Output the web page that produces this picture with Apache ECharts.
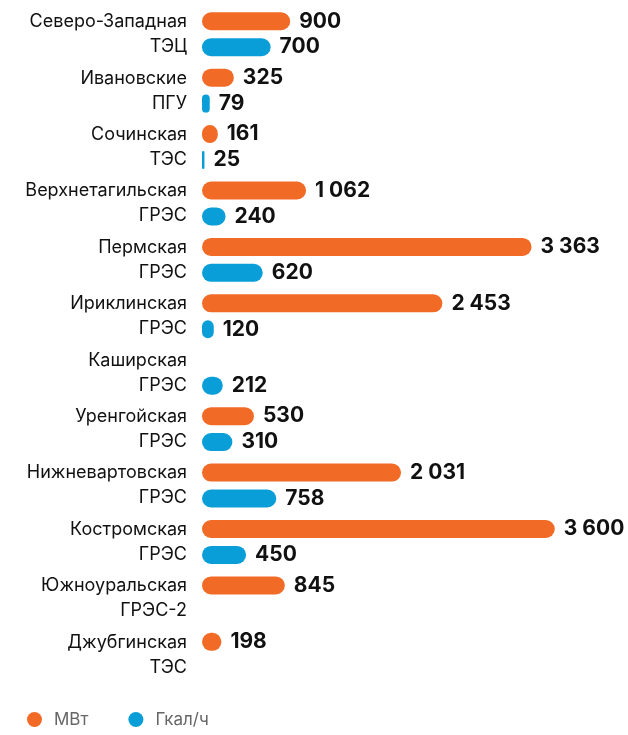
<!DOCTYPE html>
<html lang="ru">
<head>
    <meta charset="UTF-8">
    <title>Мощность</title>
    <script src="https://cdn.jsdelivr.net/npm/echarts@6/dist/echarts.min.js"></script>
    <style>
        html, body { margin: 0; padding: 0; background: #fff; }
        #main { width: 628px; height: 735px; }
    </style>
</head>
<body>
    <div id="main"></div>
    <script type="text/javascript">
        var stations = [
            'Северо-Западная\nТЭЦ', 'Ивановские\nПГУ', 'Сочинская\nТЭС', 'Верхнетагильская\nГРЭС',
            'Пермская\nГРЭС', 'Ириклинская\nГРЭС', 'Каширская\nГРЭС', 'Уренгойская\nГРЭС',
            'Нижневартовская\nГРЭС', 'Костромская\nГРЭС', 'Южноуральская\nГРЭС-2', 'Джубгинская\nТЭС'
        ];
        var mw = [900, 325, 161, 1062, 3363, 2453, null, 530, 2031, 3600, 845, 198];
        var gcal = [700, 79, 25, 240, 620, 120, 212, 310, 758, 450, null, null];
        var seriesNames = ['МВт', 'Гкал/ч'];

        // число с пробелом между разрядами
        function fmt(p) {
            return String(p.value).replace(/\B(?=(\d{3})+(?!\d))/g, ' ');
        }

        var myChart = echarts.init(document.getElementById('main'));
        var labelStyle = {
            show: true,
            position: 'right',
            distance: 9,
            formatter: fmt,
            color: '#111',
            fontFamily: 'Inter',
            fontWeight: 'bold',
            fontSize: 21
        };

        myChart.setOption({
            animation: false,
            grid: { left: 202, right: 34, top: 6, bottom: 52 },
            legend: {
                data: seriesNames,
                left: 22,
                bottom: 2,
                icon: 'circle',
                itemWidth: 15,
                itemHeight: 15,
                itemGap: 40,
                textStyle: { color: '#666', fontSize: 17, fontFamily: 'Inter', padding: [0, 0, 0, 7] }
            },
            xAxis: {
                type: 'value',
                min: 0,
                max: 4000,
                show: false
            },
            yAxis: {
                type: 'category',
                data: stations,
                inverse: true,
                axisLine: { show: false },
                axisTick: { show: false },
                axisLabel: {
                    margin: 15,
                    align: 'right',
                    color: '#111',
                    fontSize: 18,
                    lineHeight: 25,
                    fontFamily: 'Inter'
                }
            },
            series: [{
                name: seriesNames[0],
                type: 'bar',
                data: mw,
                barWidth: 18,
                barGap: '44%',
                itemStyle: { color: '#f26b26', borderRadius: 9 },
                label: labelStyle
            }, {
                name: seriesNames[1],
                type: 'bar',
                data: gcal,
                barWidth: 18,
                itemStyle: { color: '#0a9ed8', borderRadius: 9 },
                label: labelStyle
            }]
        });
    </script>
</body>
</html>
